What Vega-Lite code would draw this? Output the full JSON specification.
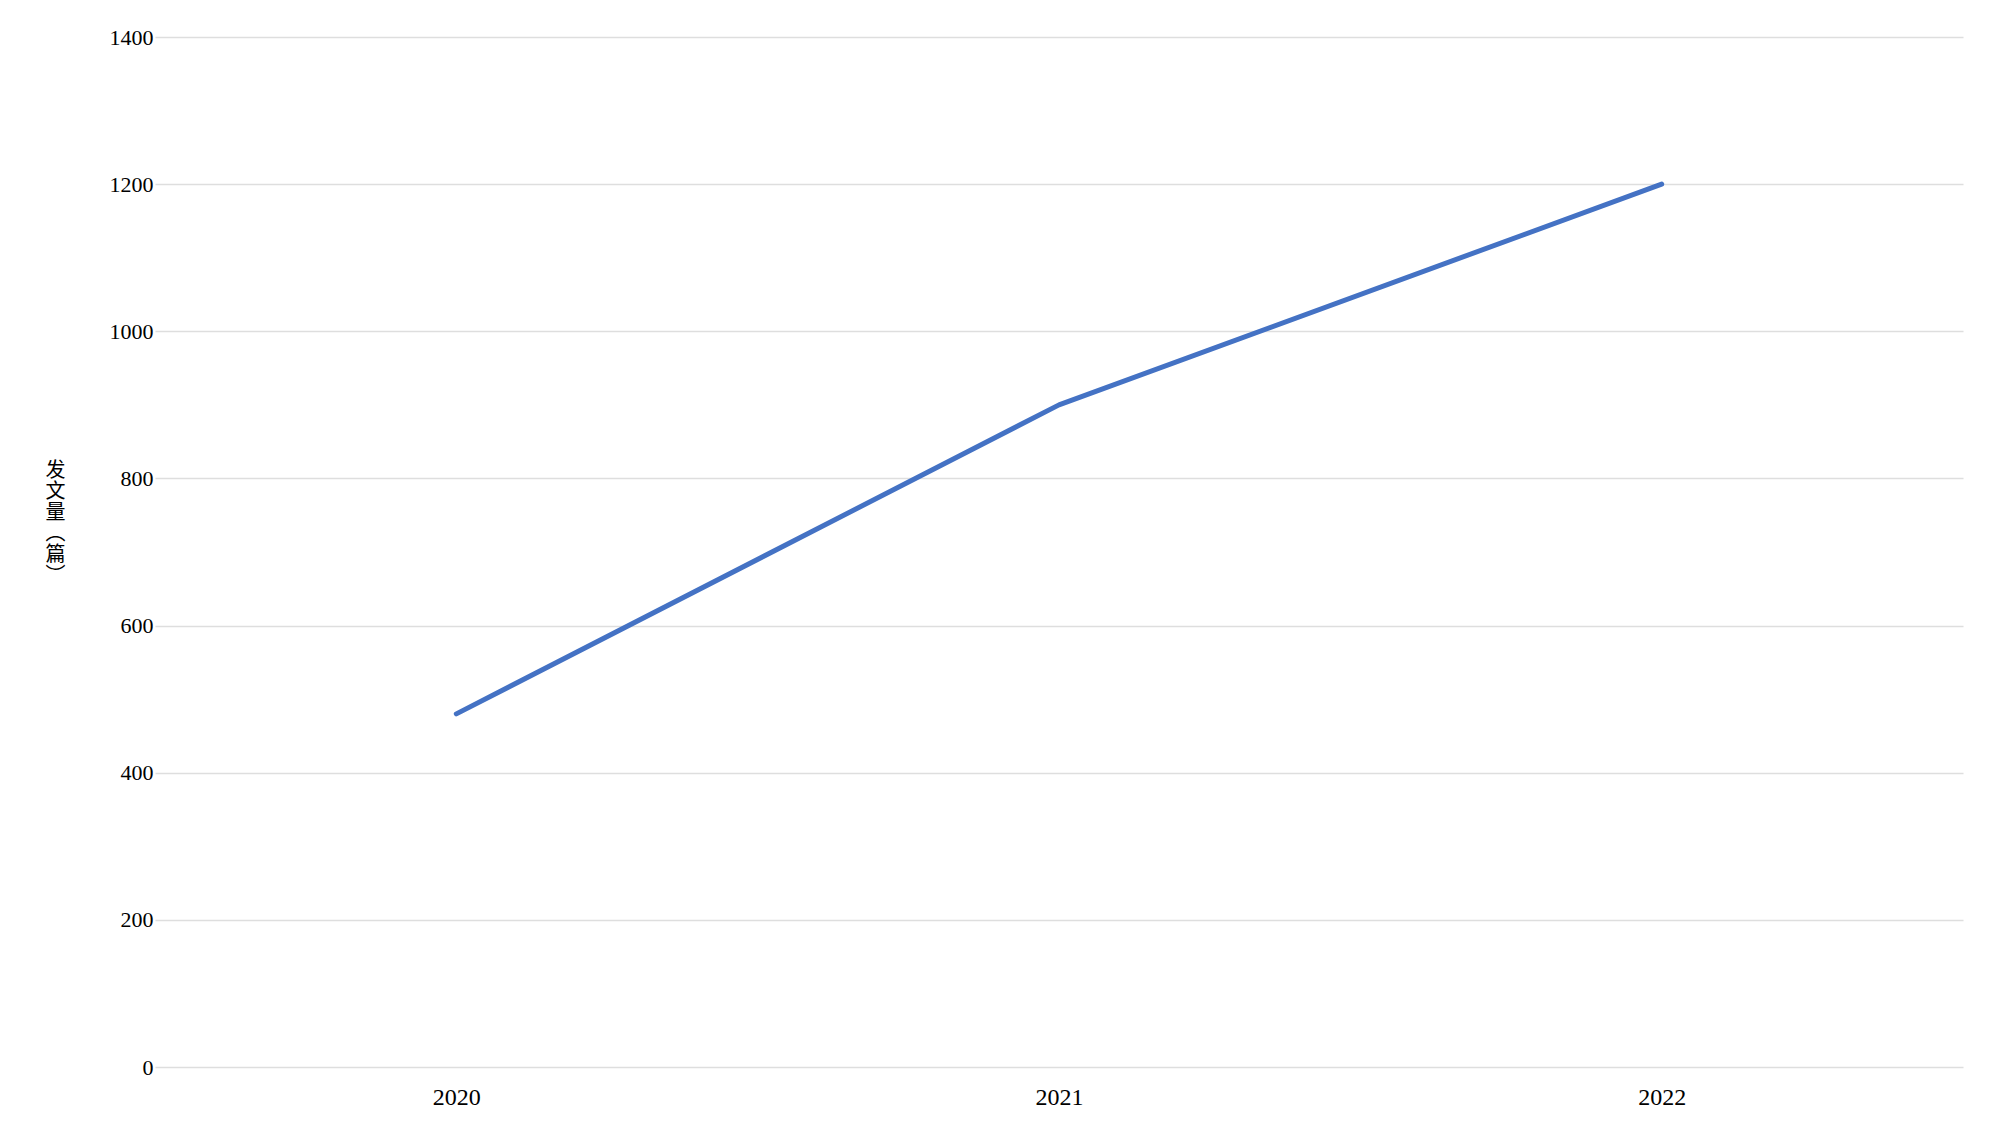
{
  "$schema": "https://vega.github.io/schema/vega-lite/v6.json",
  "autosize": {"type": "none"},
  "width": 1808,
  "height": 1030,
  "padding": {"left": 155, "top": 37, "right": 36, "bottom": 74},
  "background": "white",
  "data": {
    "values": [
      {"year": "2020", "count": 480},
      {"year": "2021", "count": 900},
      {"year": "2022", "count": 1200}
    ]
  },
  "mark": {"type": "line", "color": "#4472C4", "strokeWidth": 5, "strokeCap": "round", "strokeJoin": "round"},
  "encoding": {
    "x": {
      "field": "year",
      "type": "ordinal",
      "sort": null,
      "axis": {
        "title": null,
        "labelAngle": 0,
        "domain": false,
        "ticks": false,
        "grid": false,
        "labelPadding": 18,
        "labelFont": "Liberation Serif",
        "labelFontSize": 24,
        "labelColor": "#000000"
      }
    },
    "y": {
      "field": "count",
      "type": "quantitative",
      "scale": {"domain": [0, 1400], "nice": false, "zero": true},
      "axis": {
        "values": [0, 200, 400, 600, 800, 1000, 1200, 1400],
        "format": "d",
        "title": ["发", "文", "量", "︵", "篇", "︶"],
        "titleAngle": 0,
        "titleAlign": "center",
        "titleBaseline": "middle",
        "titleX": -100,
        "titleY": 433,
        "titleFont": "Noto Sans CJK SC",
        "titleFontSize": 20,
        "titleLineHeight": 21,
        "titleFontWeight": "normal",
        "titleColor": "#000000",
        "domain": false,
        "ticks": false,
        "grid": true,
        "gridColor": "#dedede",
        "gridWidth": 1.5,
        "labelPadding": 2,
        "labelFont": "Liberation Serif",
        "labelFontSize": 22,
        "labelColor": "#000000"
      }
    }
  },
  "config": {
    "view": {"stroke": null}
  }
}
